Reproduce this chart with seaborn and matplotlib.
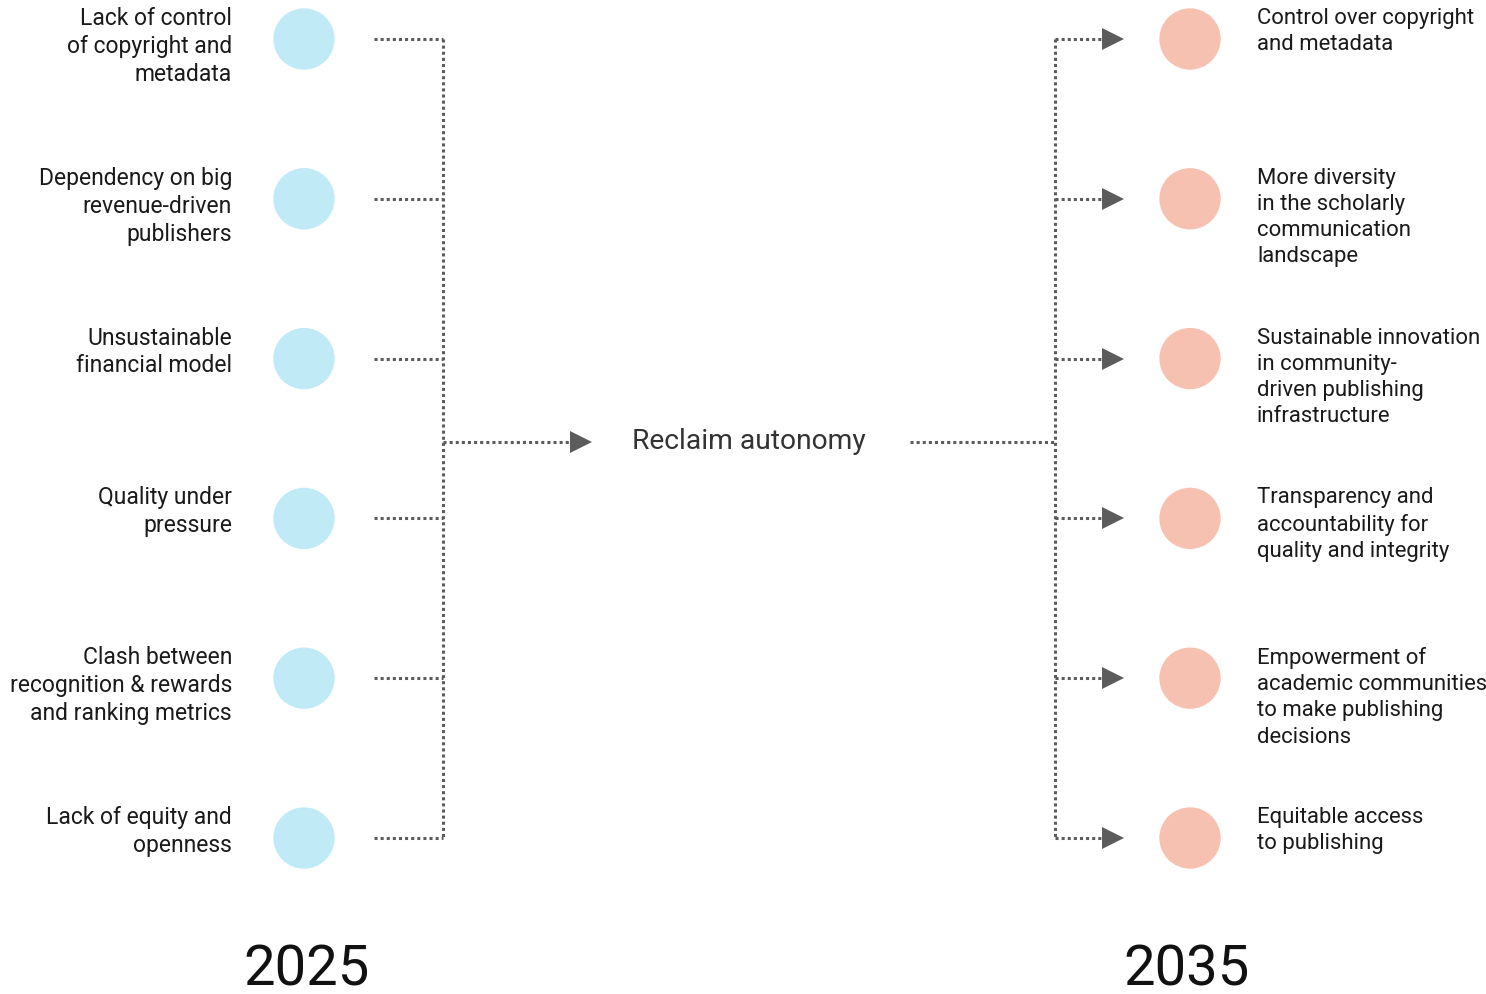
import pandas as pd
import matplotlib.pyplot as plt
import seaborn as sns

# content
left_labels = [
    "Lack of control\nof copyright and\nmetadata",
    "Dependency on big\nrevenue-driven\npublishers",
    "Unsustainable\nfinancial model",
    "Quality under\npressure",
    "Clash between\nrecognition & rewards\nand ranking metrics",
    "Lack of equity and\nopenness",
]
right_labels = [
    "Control over copyright\nand metadata",
    "More diversity\nin the scholarly\ncommunication\nlandscape",
    "Sustainable innovation\nin community-\ndriven publishing\ninfrastructure",
    "Transparency and\naccountability for\nquality and integrity",
    "Empowerment of\nacademic communities\nto make publishing\ndecisions",
    "Equitable access\nto publishing",
]
center_label = "Reclaim autonomy"
years = ["2025", "2035"]

# layout (pixel space of a 1486x994 canvas)
W, H = 1486, 994
ROW_TOP, ROW_STEP = 39, 159.8
CIRCLE_X = [304, 1190]
YEAR_X = [307, 1187]
BLUE, SALMON = "#bfeaf6", "#f6c1b0"
LINE = "#5c5c5c"
DOT = (0, (1, 1))

sns.set_theme(style="white")
plt.rcParams["font.family"] = ["Roboto", "DejaVu Sans"]

n = len(left_labels)
rows = [ROW_TOP + i * ROW_STEP for i in range(n)]
mid_y = (rows[0] + rows[-1]) / 2 + 3

circles = pd.DataFrame({
    "x": [CIRCLE_X[0]] * n + [CIRCLE_X[1]] * n,
    "y": rows + rows,
    "year": [years[0]] * n + [years[1]] * n,
})

fig = plt.figure(figsize=(W / 100, H / 100), dpi=100)
ax = fig.add_axes([0, 0, 1, 1])
ax.set_xlim(0, W)
ax.set_ylim(H, 0)
ax.axis("off")

sns.scatterplot(data=circles, x="x", y="y", hue="year", palette=[BLUE, SALMON],
                s=1950, linewidth=0, legend=False, ax=ax, zorder=3)

for y, lab in zip(rows, left_labels):
    ax.text(232, y - 32, lab, ha="right", va="top", linespacing=1.27,
            color="#1a1a1a", fontsize=16.5)
    ax.plot([374, 443], [y, y], color=LINE, lw=2.2, ls=DOT)
for y, lab in zip(rows, right_labels):
    ax.text(1257, y - 31, lab, ha="left", va="top", linespacing=1.32,
            color="#1a1a1a", fontsize=15.9)
    ax.plot([1055, 1106], [y, y], color=LINE, lw=2.2, ls=DOT)
    ax.plot([1113], [y], marker=">", ms=16, color=LINE, mew=0)

# left bracket + arrow to centre
ax.plot([443, 443], [rows[0], rows[-1]], color=LINE, lw=2.2, ls=DOT)
ax.plot([443, 575], [mid_y, mid_y], color=LINE, lw=2.2, ls=DOT)
ax.plot([581], [mid_y], marker=">", ms=16, color=LINE, mew=0)

# centre to right bracket
ax.plot([910, 1055], [mid_y, mid_y], color=LINE, lw=2.2, ls=DOT)
ax.plot([1055, 1055], [rows[0], rows[-1]], color=LINE, lw=2.2, ls=DOT)

ax.text(749, mid_y, center_label, ha="center", va="center", fontsize=20.3, color="#333333")

for x, yr in zip(YEAR_X, years):
    ax.text(x, 970, yr, ha="center", va="center", fontsize=40.5, color="#111111")

fig.savefig("out.png", dpi=100)
